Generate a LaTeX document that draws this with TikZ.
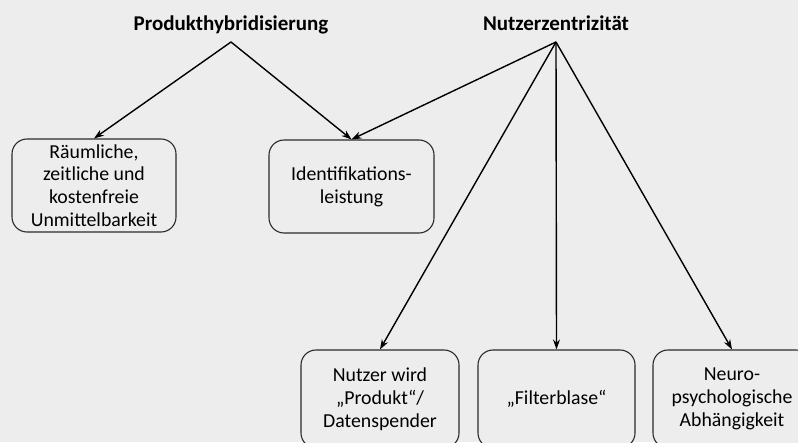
\documentclass[tikz,border=0pt]{standalone}
\usepackage{fontspec}
\setmainfont{Carlito}
\usepackage{xcolor}
\usepackage{tikz}
\usetikzlibrary{arrows.meta}
\definecolor{bg}{HTML}{EDEDED}
\definecolor{ink}{HTML}{000000}
\definecolor{frame}{HTML}{2B2B2B}
\tikzset{
  box/.style={draw=frame, fill=bg, line width=1.1pt, rounded corners=15pt,
    minimum width=158pt, minimum height=93pt, align=center, inner sep=0pt,
    font=\fontsize{19.8}{22.8}\selectfont, text=ink},
  head/.style={anchor=south, inner sep=0pt, text depth=11pt,
    font=\fontsize{21}{24}\selectfont\bfseries, text=ink},
  arr/.style={draw=ink, line width=1.4pt, -{Stealth[length=10pt,width=7pt]}},
}

\begin{document}
\begin{tikzpicture}[x=1pt,y=1pt]
  \clip (0,0) rectangle (798,442);
  \fill[bg] (0,0) rectangle (798,442);
  % headings
  \node[head] (prod) at (231,400) {Produkthybridisierung};
  \node[head] (nutz) at (556,400) {Nutzerzentrizität};
  % upper boxes
  \node[box, minimum width=164pt] (raeum) at (94,256.5)
    {Räumliche,\\zeitliche und\\kostenfreie\\Unmittelbarkeit};
  \node[box, minimum width=165pt] (ident) at (351.5,255.5)
    {Identifikations-\\leistung};
  % lower boxes
  \node[box, minimum height=98pt] (daten) at (380,43) {Nutzer wird\\„Produkt“/\\Datenspender};
  \node[box, minimum height=98pt, minimum width=157pt] (filter) at (556.5,43) {„Filterblase“};
  \node[box, minimum height=98pt] (neuro) at (732,43) {Neuro-\\psychologische\\Abhängigkeit};
  % arrows
  \draw[arr] (prod.south) -- (raeum.north);
  \draw[arr] (prod.south) -- (ident.north);
  \draw[arr] (nutz.south) -- (ident.north);
  \draw[arr] (nutz.south) -- (daten.north);
  \draw[arr] (nutz.south) -- (filter.north);
  \draw[arr] (nutz.south) -- (neuro.north);
\end{tikzpicture}
\end{document}
